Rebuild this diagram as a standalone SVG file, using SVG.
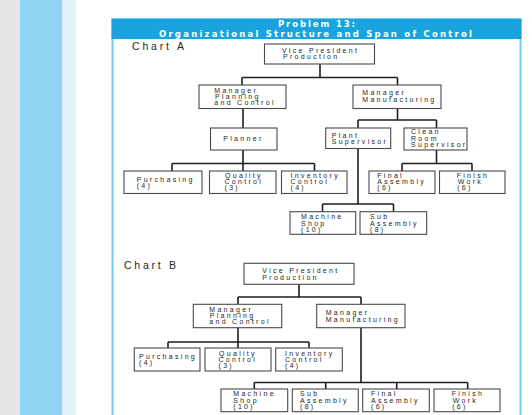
<svg xmlns="http://www.w3.org/2000/svg" width="532" height="415" viewBox="0 0 532 415">
<style>
.box{fill:#fff;stroke:#4a4a4a;stroke-width:1.1}
.con{fill:none;stroke:#1e1e1e;stroke-width:1.6}
.t{font-family:"Liberation Sans",Arial,sans-serif;font-size:7px;letter-spacing:2.3px;fill:#262626}
.lbl{font-family:"Liberation Sans",Arial,sans-serif;font-size:10.5px;fill:#262626}
.hd{font-family:"DejaVu Sans",Verdana,sans-serif;font-weight:bold;font-size:8.5px;fill:#fff}
</style>
<rect x="0" y="0" width="532" height="415" fill="#fff"/>
<rect x="0" y="0" width="20" height="415" fill="#e6e6e6"/>
<rect x="20" y="0" width="42.5" height="415" fill="#8fd4f2"/>
<rect x="62.5" y="0" width="13.5" height="415" fill="#e2f2fb"/>
<g id="frame">
<rect x="112.5" y="19" width="408" height="400" fill="#fff" stroke="#72cdf0" stroke-width="2"/>
<rect x="111.5" y="19" width="410" height="20" fill="#1ba3df"/>
<text class="hd" x="278" y="27.4" textLength="77" lengthAdjust="spacing">Problem 13:</text>
<text class="hd" x="159" y="37" textLength="313" lengthAdjust="spacing">Organizational Structure and Span of Control</text>
</g>
<text class="lbl" x="132" y="49.5" textLength="52" lengthAdjust="spacing">Chart A</text>
<text class="lbl" x="124" y="268.5" textLength="52" lengthAdjust="spacing">Chart B</text>
<g id="connectors">
<path class="con" d="M320,64 V77.5 M242,77.5 H397.5 M242,77.5 V85 M397.5,77.5 V85"/>
<path class="con" d="M243,108.5 V128"/>
<path class="con" d="M397.5,108.5 V120 M358,120 H436.5 M358,120 V128 M436.5,120 V128"/>
<path class="con" d="M243,150 V163.5 M172,163.5 H314.5 M172,163.5 V171 M243,163.5 V171 M314.5,163.5 V171"/>
<path class="con" d="M358,148.5 V204 M322.5,204 H393.5 M322.5,204 V211.7 M393.5,204 V211.7"/>
<path class="con" d="M436.5,150 V163.5 M402,163.5 H472 M402,163.5 V171 M472,163.5 V171"/>
<path class="con" d="M299,284.3 V297 M238,297 H361 M238,297 V304.3 M361,297 V304.3"/>
<path class="con" d="M238,327.7 V342 M168,342 H309 M168,342 V348 M238,342 V348 M309,342 V348"/>
<path class="con" d="M361,327.7 V382.5 M254.3,382.5 H467.7 M254.3,382.5 V389 M325.7,382.5 V389 M396.7,382.5 V389 M467.7,382.5 V389"/>
</g>
<g id="a-vp"><rect class="box" x="264.5" y="44" width="110" height="20"/><text class="t"><tspan x="282" y="53.3">Vice President</tspan><tspan x="283" y="59.3">Production</tspan></text></g>
<g id="a-mpc"><rect class="box" x="199" y="85" width="87" height="23.5"/><text class="t"><tspan x="214.3" y="92.5">Manager</tspan><tspan x="215" y="98.5">Planning</tspan><tspan x="214.3" y="104.5">and Control</tspan></text></g>
<g id="a-mm"><rect class="box" x="353" y="85" width="88" height="23.5"/><text class="t"><tspan x="362.3" y="95">Manager</tspan><tspan x="362.3" y="101.5">Manufacturing</tspan></text></g>
<g id="a-planner"><rect class="box" x="210.5" y="128" width="66.5" height="22"/><text class="t" x="223.3" y="141">Planner</text></g>
<g id="a-plant"><rect class="box" x="325.7" y="128" width="65" height="20.5"/><text class="t"><tspan x="331.7" y="137.5">Plant</tspan><tspan x="331.7" y="143.8">Supervisor</tspan></text></g>
<g id="a-clean"><rect class="box" x="404" y="128" width="63" height="22"/><text class="t"><tspan x="411" y="134.3">Clean</tspan><tspan x="411" y="140.7">Room</tspan><tspan x="411" y="147">Supervisor</tspan></text></g>
<g id="a-purch"><rect class="box" x="124" y="171" width="78" height="22.5"/><text class="t"><tspan x="136.7" y="181.5">Purchasing</tspan><tspan x="136.7" y="188">(4)</tspan></text></g>
<g id="a-qc"><rect class="box" x="209.5" y="171" width="66.5" height="22.5"/><text class="t"><tspan x="225" y="177.6">Quality</tspan><tspan x="224.5" y="184">Control</tspan><tspan x="224.5" y="190.3">(3)</tspan></text></g>
<g id="a-inv"><rect class="box" x="281.5" y="171" width="65.5" height="22.5"/><text class="t"><tspan x="290.5" y="177.6">Inventory</tspan><tspan x="290.5" y="184">Control</tspan><tspan x="290.5" y="190.3">(4)</tspan></text></g>
<g id="a-final"><rect class="box" x="369" y="171" width="66" height="22.5"/><text class="t"><tspan x="377.3" y="177.6">Final</tspan><tspan x="377.3" y="184">Assembly</tspan><tspan x="377.3" y="190.3">(6)</tspan></text></g>
<g id="a-finish"><rect class="box" x="439.5" y="171" width="65.5" height="22.5"/><text class="t"><tspan x="456.7" y="177.6">Finish</tspan><tspan x="457.7" y="184">Work</tspan><tspan x="457.2" y="190.3">(6)</tspan></text></g>
<g id="a-machine"><rect class="box" x="290" y="211.7" width="65.7" height="22.6"/><text class="t"><tspan x="301" y="219.3">Machine</tspan><tspan x="301" y="225.5">Shop</tspan><tspan x="301" y="231.7">(10)</tspan></text></g>
<g id="a-sub"><rect class="box" x="360" y="211.7" width="66.7" height="22.6"/><text class="t"><tspan x="370" y="219.3">Sub</tspan><tspan x="370" y="225.5">Assembly</tspan><tspan x="370" y="231.7">(8)</tspan></text></g>
<g id="b-vp"><rect class="box" x="244" y="263.3" width="110" height="21"/><text class="t"><tspan x="262.3" y="273.3">Vice President</tspan><tspan x="262.3" y="279.5">Production</tspan></text></g>
<g id="b-mpc"><rect class="box" x="193.3" y="304.3" width="88.4" height="23.4"/><text class="t"><tspan x="209.3" y="312.3">Manager</tspan><tspan x="209.8" y="318.3">Planning</tspan><tspan x="209.3" y="324.3">and Control</tspan></text></g>
<g id="b-mm"><rect class="box" x="316.7" y="304.3" width="88.3" height="23.4"/><text class="t"><tspan x="325.7" y="315.3">Manager</tspan><tspan x="325.7" y="321.8">Manufacturing</tspan></text></g>
<g id="b-purch"><rect class="box" x="134.3" y="348" width="65.7" height="23"/><text class="t"><tspan x="139" y="358.5">Purchasing</tspan><tspan x="139" y="365">(4)</tspan></text></g>
<g id="b-qc"><rect class="box" x="205" y="348" width="66" height="23"/><text class="t"><tspan x="219" y="355.8">Quality</tspan><tspan x="218.5" y="361.9">Control</tspan><tspan x="218.5" y="368">(3)</tspan></text></g>
<g id="b-inv"><rect class="box" x="275.7" y="348" width="66.6" height="23"/><text class="t"><tspan x="285" y="355.8">Inventory</tspan><tspan x="285" y="361.9">Control</tspan><tspan x="285" y="368">(4)</tspan></text></g>
<g id="b-machine"><rect class="box" x="221" y="389" width="66.7" height="22.7"/><text class="t"><tspan x="233.3" y="396.4">Machine</tspan><tspan x="233.3" y="402.7">Shop</tspan><tspan x="233.3" y="409">(10)</tspan></text></g>
<g id="b-sub"><rect class="box" x="292.3" y="389" width="66" height="22.7"/><text class="t"><tspan x="300" y="396.4">Sub</tspan><tspan x="300" y="402.7">Assembly</tspan><tspan x="300" y="409">(8)</tspan></text></g>
<g id="b-final"><rect class="box" x="362.7" y="389" width="66.6" height="22.7"/><text class="t"><tspan x="371" y="396.4">Final</tspan><tspan x="371" y="402.7">Assembly</tspan><tspan x="371" y="409">(6)</tspan></text></g>
<g id="b-finish"><rect class="box" x="434" y="389" width="66" height="22.7"/><text class="t"><tspan x="451.7" y="396.4">Finish</tspan><tspan x="452.7" y="402.7">Work</tspan><tspan x="452.2" y="409">(6)</tspan></text></g>
</svg>
